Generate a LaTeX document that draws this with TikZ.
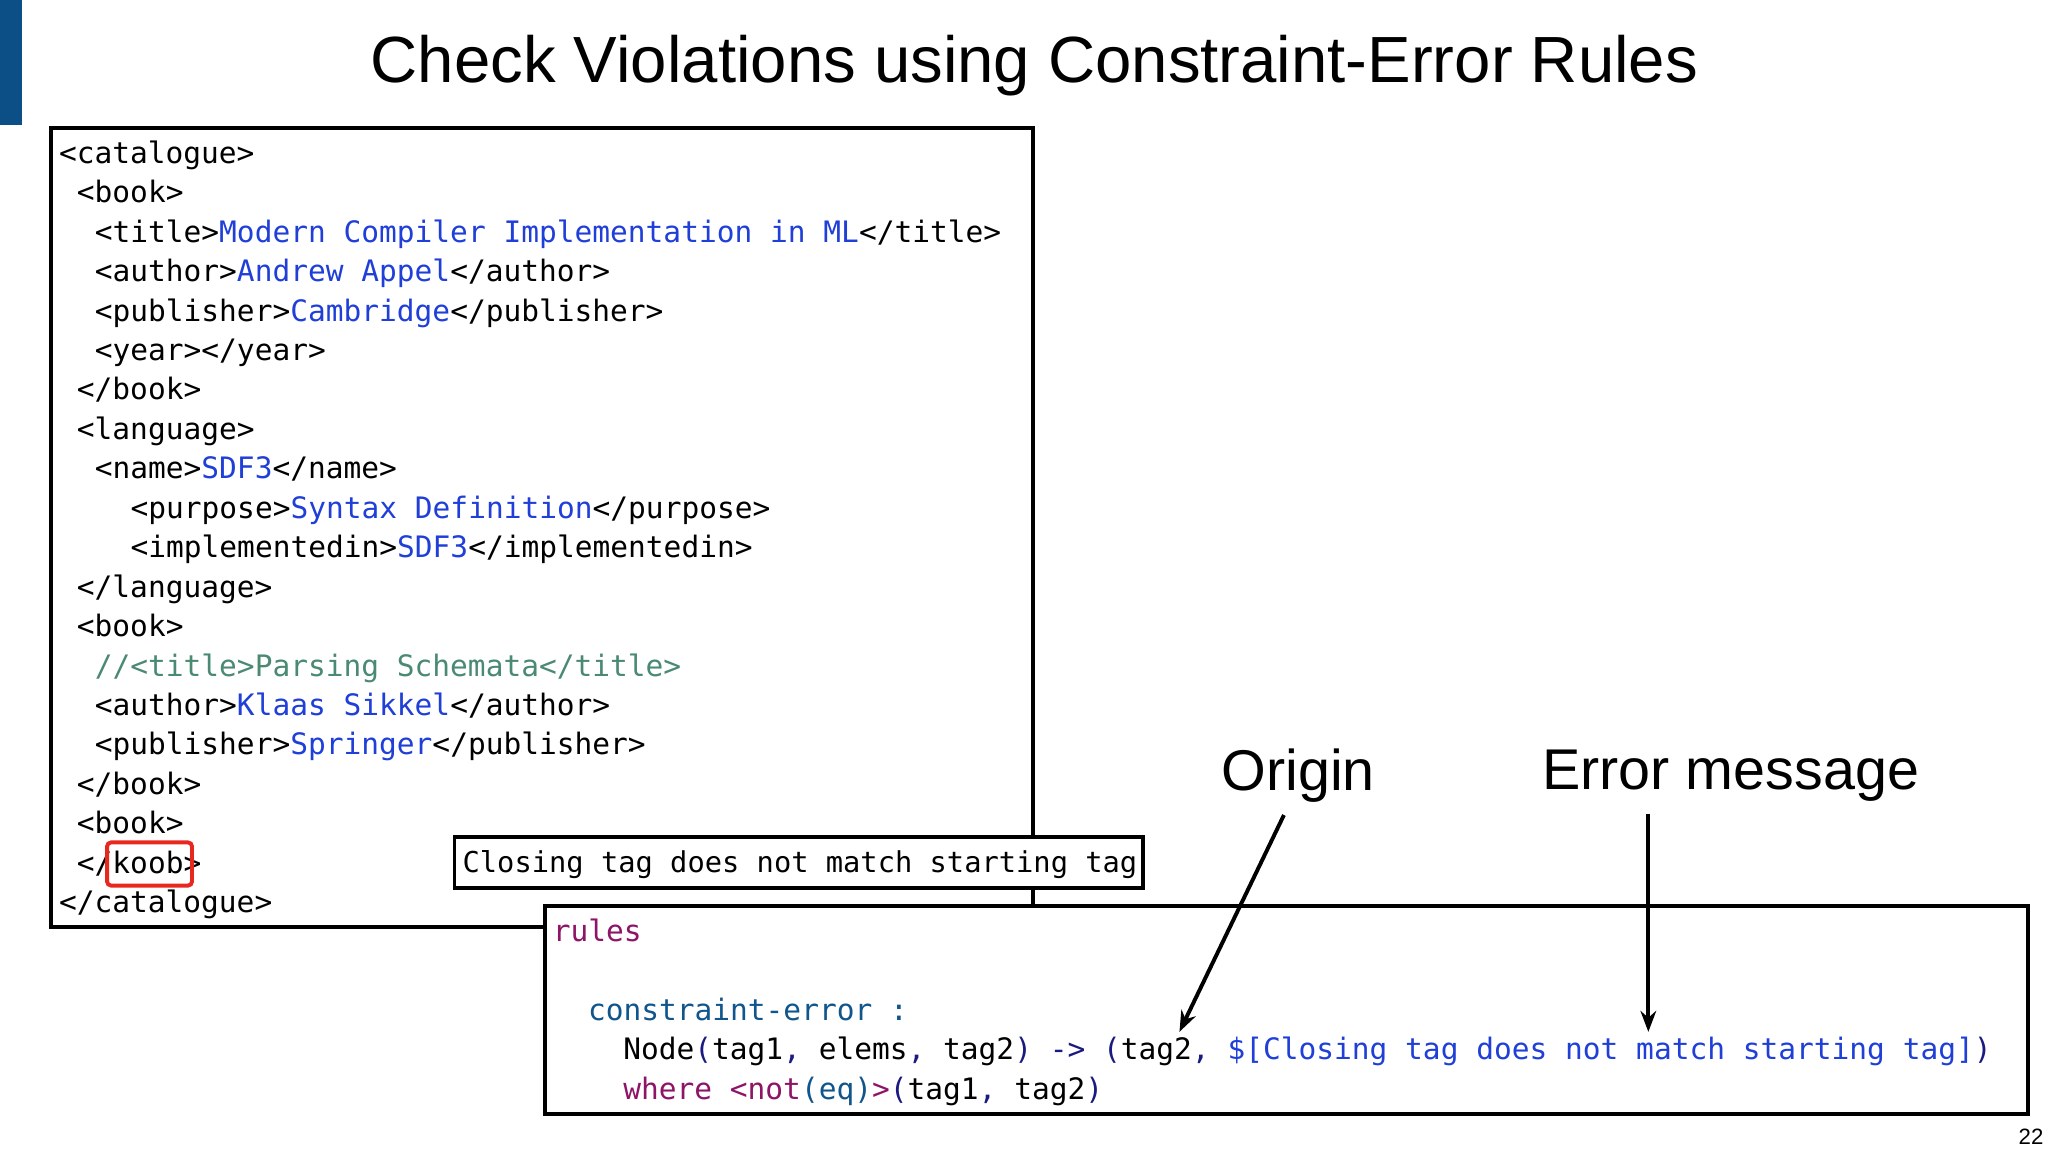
\documentclass[tikz,border=0pt]{standalone}
\usepackage{fontspec}
\setmainfont{Liberation Sans}
\newfontfamily\mono{DejaVu Sans Mono}
\usetikzlibrary{arrows.meta}
\definecolor{cblue}{HTML}{1F3FD8}
\definecolor{cgreen}{HTML}{4A8A72}
\definecolor{cpurple}{HTML}{8E1468}
\definecolor{cteal}{HTML}{10558C}
\definecolor{cnavy}{HTML}{1A1A80}
\definecolor{cbar}{HTML}{0B4F86}
\definecolor{cred}{HTML}{E8281E}
\newcommand\bl[1]{\textcolor{cblue}{#1}}
\newcommand\nv[1]{\textcolor{cnavy}{#1}}
\newcommand\pu[1]{\textcolor{cpurple}{#1}}
\newcommand\tl[1]{\textcolor{cteal}{#1}}
\begin{document}
\begin{tikzpicture}[x=1pt,y=-1pt,
  code/.style={anchor=base west,inner sep=0pt,font=\mono\fontsize{22.6}{24}\selectfont},
  lbl/.style={inner sep=0pt,font=\fontsize{44}{48}\selectfont},
  frame/.style={draw=black,line width=3pt},
  arr/.style={line width=3pt,-{Stealth[length=16pt,width=12pt]}}]
\useasboundingbox[fill=white] (0,0) rectangle (1568,882);
\fill[cbar] (0,0) rectangle (17,96);
\node[inner sep=0pt,font=\fontsize{50}{54}\selectfont] (title) at (792,50) {Check Violations using Constraint-Error Rules};
% XML box
\draw[frame] (39,98) rectangle (791,710);
\def\cw{13.7}
\foreach \i/\ind/\txt in {
 0/0/{<catalogue>},
 1/1/{<book>},
 2/2/{<title>\bl{Modern Compiler Implementation in ML}</title>},
 3/2/{<author>\bl{Andrew Appel}</author>},
 4/2/{<publisher>\bl{Cambridge}</publisher>},
 5/2/{<year></year>},
 6/1/{</book>},
 7/1/{<language>},
 8/2/{<name>\bl{SDF3}</name>},
 9/4/{<purpose>\bl{Syntax Definition}</purpose>},
 10/4/{<implementedin>\bl{SDF3}</implementedin>},
 11/1/{</language>},
 12/1/{<book>},
 13/2/{\textcolor{cgreen}{//<title>Parsing Schemata</title>}},
 14/2/{<author>\bl{Klaas Sikkel}</author>},
 15/2/{<publisher>\bl{Springer}</publisher>},
 16/1/{</book>},
 17/1/{<book>},
 18/1/{</koob>},
 19/0/{</catalogue>}}
 \node[code] (l\i) at ({45+\ind*\cw},{125+\i*30.2}) {\txt};
\draw[cred,line width=3pt,rounded corners=3pt] (82,645) rectangle (147,678);
% rules box
\draw[frame,fill=white] (417,694) rectangle (1553,853);
\node[code,text=cpurple] (r1) at (423,721) {rules};
\node[code,text=cteal] (r2) at (450,781) {constraint-error :};
\node[code] (r3) at (477,811) {Node\nv{(}tag1\nv{,} elems\nv{,} tag2\nv{)} \nv{->} \nv{(}tag2\nv{,} \bl{\$[Closing tag does not match starting tag]}\nv{)}};
\node[code] (r4) at (477,842) {\pu{where} \pu{<not}\tl{(eq)}\pu{>}\nv{(}tag1\nv{,} tag2\nv{)}};
% error message box
\draw[frame,fill=white] (348,641) rectangle (875,680);
\node[code,font=\mono\fontsize{22}{24}\selectfont] (err) at (354,668) {Closing tag does not match starting tag};
% labels and arrows
\node[lbl] (origin) at (994,594) {Origin};
\node[lbl] (emsg) at (1325,594) {Error message};
\coordinate (o1) at (983,624);
\coordinate (o2) at (903,790);
\coordinate (e1) at (1262,623);
\coordinate (e2) at (1262,790);
\draw[arr] (o1) -- (o2);
\draw[arr] (e1) -- (e2);
\node[inner sep=0pt,font=\fontsize{17}{18}\selectfont] (pg) at (1555,870) {22};
\end{tikzpicture}
\end{document}
